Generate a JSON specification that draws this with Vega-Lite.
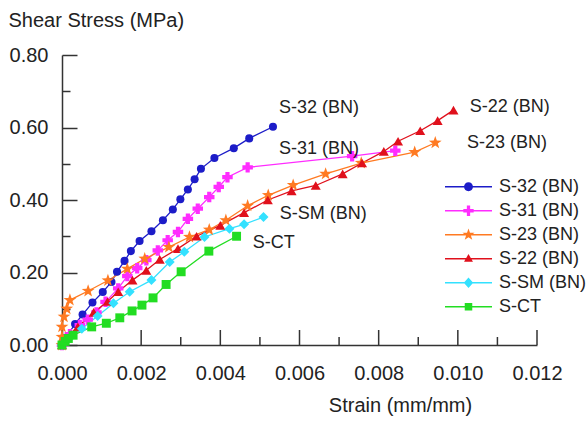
{
  "$schema": "https://vega.github.io/schema/vega-lite/v6.json",
  "width": 475,
  "height": 290,
  "autosize": {"type": "none"},
  "padding": {"left": 62, "top": 55, "right": 50, "bottom": 78},
  "background": "white",
  "config": {
    "view": {"stroke": null},
    "font": "Liberation Sans",
    "axis": {
      "grid": false,
      "domainColor": "#333333",
      "tickColor": "#333333",
      "domainWidth": 1.5,
      "tickWidth": 1.5,
      "labelColor": "#222222",
      "titleColor": "#222222",
      "labelFont": "Liberation Sans",
      "titleFont": "Liberation Sans",
      "labelFontSize": 20,
      "titleFontSize": 20,
      "titleFontWeight": "normal"
    }
  },
  "datasets": {
    "xticks": [
      {"tick": 0, "kind": "major"},
      {"tick": 0.001, "kind": "minor"},
      {"tick": 0.002, "kind": "major"},
      {"tick": 0.003, "kind": "minor"},
      {"tick": 0.004, "kind": "major"},
      {"tick": 0.005, "kind": "minor"},
      {"tick": 0.006, "kind": "major"},
      {"tick": 0.007, "kind": "minor"},
      {"tick": 0.008, "kind": "major"},
      {"tick": 0.009, "kind": "minor"},
      {"tick": 0.01, "kind": "major"},
      {"tick": 0.011, "kind": "minor"},
      {"tick": 0.012, "kind": "major"}
    ],
    "curves": [
      {"series": "S-32 (BN)", "strain": 0, "stress": 0},
      {"series": "S-32 (BN)", "strain": 0.0001, "stress": 0.02},
      {"series": "S-32 (BN)", "strain": 0.00033, "stress": 0.058},
      {"series": "S-32 (BN)", "strain": 0.00052, "stress": 0.084},
      {"series": "S-32 (BN)", "strain": 0.00077, "stress": 0.117},
      {"series": "S-32 (BN)", "strain": 0.00103, "stress": 0.146},
      {"series": "S-32 (BN)", "strain": 0.00125, "stress": 0.174},
      {"series": "S-32 (BN)", "strain": 0.00139, "stress": 0.202},
      {"series": "S-32 (BN)", "strain": 0.00158, "stress": 0.232},
      {"series": "S-32 (BN)", "strain": 0.00174, "stress": 0.259},
      {"series": "S-32 (BN)", "strain": 0.00196, "stress": 0.287},
      {"series": "S-32 (BN)", "strain": 0.00226, "stress": 0.314},
      {"series": "S-32 (BN)", "strain": 0.00255, "stress": 0.344},
      {"series": "S-32 (BN)", "strain": 0.0028, "stress": 0.374},
      {"series": "S-32 (BN)", "strain": 0.00299, "stress": 0.402},
      {"series": "S-32 (BN)", "strain": 0.00318, "stress": 0.429},
      {"series": "S-32 (BN)", "strain": 0.00335, "stress": 0.457},
      {"series": "S-32 (BN)", "strain": 0.00351, "stress": 0.486},
      {"series": "S-32 (BN)", "strain": 0.00385, "stress": 0.516},
      {"series": "S-32 (BN)", "strain": 0.00434, "stress": 0.543},
      {"series": "S-32 (BN)", "strain": 0.00473, "stress": 0.57},
      {"series": "S-32 (BN)", "strain": 0.00533, "stress": 0.602},

      {"series": "S-31 (BN)", "strain": 0, "stress": 0},
      {"series": "S-31 (BN)", "strain": 0.0002, "stress": 0.03},
      {"series": "S-31 (BN)", "strain": 0.00045, "stress": 0.055},
      {"series": "S-31 (BN)", "strain": 0.00065, "stress": 0.07},
      {"series": "S-31 (BN)", "strain": 0.00087, "stress": 0.09},
      {"series": "S-31 (BN)", "strain": 0.0011, "stress": 0.119},
      {"series": "S-31 (BN)", "strain": 0.00142, "stress": 0.156},
      {"series": "S-31 (BN)", "strain": 0.00165, "stress": 0.19},
      {"series": "S-31 (BN)", "strain": 0.0019, "stress": 0.212},
      {"series": "S-31 (BN)", "strain": 0.00213, "stress": 0.234},
      {"series": "S-31 (BN)", "strain": 0.00242, "stress": 0.261},
      {"series": "S-31 (BN)", "strain": 0.00267, "stress": 0.289},
      {"series": "S-31 (BN)", "strain": 0.00293, "stress": 0.312},
      {"series": "S-31 (BN)", "strain": 0.00318, "stress": 0.348},
      {"series": "S-31 (BN)", "strain": 0.00343, "stress": 0.376},
      {"series": "S-31 (BN)", "strain": 0.00372, "stress": 0.408},
      {"series": "S-31 (BN)", "strain": 0.00396, "stress": 0.436},
      {"series": "S-31 (BN)", "strain": 0.00418, "stress": 0.463},
      {"series": "S-31 (BN)", "strain": 0.00469, "stress": 0.49},
      {"series": "S-31 (BN)", "strain": 0.00733, "stress": 0.521},
      {"series": "S-31 (BN)", "strain": 0.00842, "stress": 0.536},

      {"series": "S-23 (BN)", "strain": 0, "stress": 0},
      {"series": "S-23 (BN)", "strain": 0, "stress": 0.022},
      {"series": "S-23 (BN)", "strain": 0, "stress": 0.05},
      {"series": "S-23 (BN)", "strain": 0.00005, "stress": 0.078},
      {"series": "S-23 (BN)", "strain": 0.00012, "stress": 0.1},
      {"series": "S-23 (BN)", "strain": 0.0002, "stress": 0.124},
      {"series": "S-23 (BN)", "strain": 0.00066, "stress": 0.149},
      {"series": "S-23 (BN)", "strain": 0.00116, "stress": 0.178},
      {"series": "S-23 (BN)", "strain": 0.00165, "stress": 0.21},
      {"series": "S-23 (BN)", "strain": 0.00209, "stress": 0.238},
      {"series": "S-23 (BN)", "strain": 0.0027, "stress": 0.27},
      {"series": "S-23 (BN)", "strain": 0.00322, "stress": 0.298},
      {"series": "S-23 (BN)", "strain": 0.00372, "stress": 0.318},
      {"series": "S-23 (BN)", "strain": 0.00414, "stress": 0.344},
      {"series": "S-23 (BN)", "strain": 0.00469, "stress": 0.384},
      {"series": "S-23 (BN)", "strain": 0.00521, "stress": 0.413},
      {"series": "S-23 (BN)", "strain": 0.00584, "stress": 0.441},
      {"series": "S-23 (BN)", "strain": 0.00666, "stress": 0.472},
      {"series": "S-23 (BN)", "strain": 0.00756, "stress": 0.502},
      {"series": "S-23 (BN)", "strain": 0.00891, "stress": 0.532},
      {"series": "S-23 (BN)", "strain": 0.00943, "stress": 0.558},

      {"series": "S-22 (BN)", "strain": 0, "stress": 0},
      {"series": "S-22 (BN)", "strain": 0.0001, "stress": 0.02},
      {"series": "S-22 (BN)", "strain": 0.0004, "stress": 0.05},
      {"series": "S-22 (BN)", "strain": 0.0008, "stress": 0.09},
      {"series": "S-22 (BN)", "strain": 0.00115, "stress": 0.12},
      {"series": "S-22 (BN)", "strain": 0.00142, "stress": 0.147},
      {"series": "S-22 (BN)", "strain": 0.00178, "stress": 0.179},
      {"series": "S-22 (BN)", "strain": 0.00213, "stress": 0.206},
      {"series": "S-22 (BN)", "strain": 0.00247, "stress": 0.236},
      {"series": "S-22 (BN)", "strain": 0.00293, "stress": 0.266},
      {"series": "S-22 (BN)", "strain": 0.0034, "stress": 0.3},
      {"series": "S-22 (BN)", "strain": 0.004, "stress": 0.33},
      {"series": "S-22 (BN)", "strain": 0.0046, "stress": 0.365},
      {"series": "S-22 (BN)", "strain": 0.0052, "stress": 0.4},
      {"series": "S-22 (BN)", "strain": 0.0058, "stress": 0.425},
      {"series": "S-22 (BN)", "strain": 0.00641, "stress": 0.44},
      {"series": "S-22 (BN)", "strain": 0.00709, "stress": 0.472},
      {"series": "S-22 (BN)", "strain": 0.00758, "stress": 0.502},
      {"series": "S-22 (BN)", "strain": 0.00813, "stress": 0.534},
      {"series": "S-22 (BN)", "strain": 0.00849, "stress": 0.562},
      {"series": "S-22 (BN)", "strain": 0.00905, "stress": 0.591},
      {"series": "S-22 (BN)", "strain": 0.00949, "stress": 0.619},
      {"series": "S-22 (BN)", "strain": 0.00989, "stress": 0.648},

      {"series": "S-SM (BN)", "strain": 0, "stress": 0},
      {"series": "S-SM (BN)", "strain": 0.0002, "stress": 0.02},
      {"series": "S-SM (BN)", "strain": 0.0005, "stress": 0.045},
      {"series": "S-SM (BN)", "strain": 0.0009, "stress": 0.08},
      {"series": "S-SM (BN)", "strain": 0.0013, "stress": 0.115},
      {"series": "S-SM (BN)", "strain": 0.00171, "stress": 0.147},
      {"series": "S-SM (BN)", "strain": 0.00226, "stress": 0.179},
      {"series": "S-SM (BN)", "strain": 0.00272, "stress": 0.229},
      {"series": "S-SM (BN)", "strain": 0.00309, "stress": 0.257},
      {"series": "S-SM (BN)", "strain": 0.0036, "stress": 0.298},
      {"series": "S-SM (BN)", "strain": 0.00423, "stress": 0.321},
      {"series": "S-SM (BN)", "strain": 0.0046, "stress": 0.333},
      {"series": "S-SM (BN)", "strain": 0.00509, "stress": 0.353},

      {"series": "S-CT", "strain": 0, "stress": 0},
      {"series": "S-CT", "strain": 0.00008, "stress": 0.01},
      {"series": "S-CT", "strain": 0.00016, "stress": 0.018},
      {"series": "S-CT", "strain": 0.00028, "stress": 0.027},
      {"series": "S-CT", "strain": 0.00075, "stress": 0.05},
      {"series": "S-CT", "strain": 0.00112, "stress": 0.06},
      {"series": "S-CT", "strain": 0.00146, "stress": 0.075},
      {"series": "S-CT", "strain": 0.00177, "stress": 0.094},
      {"series": "S-CT", "strain": 0.00202, "stress": 0.11},
      {"series": "S-CT", "strain": 0.0023, "stress": 0.13},
      {"series": "S-CT", "strain": 0.00263, "stress": 0.167},
      {"series": "S-CT", "strain": 0.00301, "stress": 0.202},
      {"series": "S-CT", "strain": 0.00371, "stress": 0.259},
      {"series": "S-CT", "strain": 0.00441, "stress": 0.3}
    ],
    "notes": [
      {"label": "S-32 (BN)", "strain": 0.00548, "stress": 0.654},
      {"label": "S-31 (BN)", "strain": 0.00548, "stress": 0.541},
      {"label": "S-SM (BN)", "strain": 0.0055, "stress": 0.361},
      {"label": "S-CT", "strain": 0.00482, "stress": 0.281},
      {"label": "S-22 (BN)", "strain": 0.0103, "stress": 0.657},
      {"label": "S-23 (BN)", "strain": 0.01023, "stress": 0.557}
    ]
  },
  "resolve": {
    "scale": {"x": "shared", "y": "shared"},
    "axis": {"x": "independent", "y": "independent"}
  },
  "layer": [
    {
      "data": {"name": "xticks"},
      "transform": [{"filter": "datum.kind === 'major'"}],
      "mark": {"type": "rule", "color": "#333333", "strokeWidth": 1.5},
      "encoding": {
        "x": {"field": "tick", "type": "quantitative", "scale": {"domain": [0, 0.012], "nice": false, "zero": false}, "axis": null},
        "y": {"datum": 0, "type": "quantitative", "scale": {"domain": [0, 0.8], "nice": false}, "axis": null},
        "y2": {"datum": 0.0414}
      }
    },
    {
      "data": {"name": "xticks"},
      "transform": [{"filter": "datum.kind === 'minor'"}],
      "mark": {"type": "rule", "color": "#333333", "strokeWidth": 1.5},
      "encoding": {
        "x": {"field": "tick", "type": "quantitative", "scale": {"domain": [0, 0.012], "nice": false, "zero": false}, "axis": null},
        "y": {"datum": 0, "type": "quantitative", "scale": {"domain": [0, 0.8], "nice": false}, "axis": null},
        "y2": {"datum": 0.022}
      }
    },
    {
      "data": {"name": "curves"},
      "mark": {"type": "line", "strokeWidth": 1.3},
      "encoding": {
        "x": {
          "field": "strain", "type": "quantitative",
          "scale": {"domain": [0, 0.012], "nice": false, "zero": false},
          "axis": {
            "orient": "bottom",
            "values": [0, 0.002, 0.004, 0.006, 0.008, 0.01, 0.012],
            "format": ".3f",
            "ticks": false,
            "grid": false,
            "labelPadding": 18,
            "labelFlush": false,
            "labelOverlap": false,
            "title": "Strain (mm/mm)",
            "titleX": 338,
            "titleY": 60,
            "titleAlign": "center",
            "titleBaseline": "middle"
          }
        },
        "y": {
          "field": "stress", "type": "quantitative",
          "scale": {"domain": [0, 0.8], "nice": false},
          "axis": {
            "orient": "left",
            "values": [0, 0.2, 0.4, 0.6, 0.8],
            "format": ".2f",
            "ticks": false,
            "grid": true,
            "gridDash": [15, 1000],
            "gridColor": "#333333",
            "gridWidth": 1.5,
            "gridOpacity": 1,
            "labelPadding": 14,
            "labelOverlap": false,
            "title": "Shear Stress (MPa)",
            "titleAngle": 0,
            "titleAlign": "left",
            "titleBaseline": "middle",
            "titleX": -54,
            "titleY": -35
          }
        },
        "color": {
          "field": "series", "type": "nominal",
          "scale": {
            "domain": ["S-32 (BN)", "S-31 (BN)", "S-23 (BN)", "S-22 (BN)", "S-SM (BN)", "S-CT"],
            "range": ["#1c1cc8", "#ff2cff", "#ff7a22", "#e0101c", "#33e1ff", "#22dd22"]
          },
          "legend": {
            "orient": "none",
            "legendX": 383,
            "legendY": 120,
            "title": null,
            "padding": 0,
            "symbolSize": 2209,
            "symbolStrokeWidth": 0,
            "symbolOffset": 0,
            "labelFontSize": 18,
            "labelFont": "Liberation Sans",
            "labelColor": "#222222",
            "labelOffset": 7,
            "labelLimit": 200,
            "clipHeight": 23.5,
            "rowPadding": 0,
            "encode": {
              "symbols": {
                "update": {
                  "shape": {"signal": "datum.value === 'S-32 (BN)' ? 'M-1,-0.03H1V0.03H-1ZM0.19,0A0.19,0.19,0,1,1,-0.19,0A0.19,0.19,0,1,1,0.19,0Z' : datum.value === 'S-31 (BN)' ? 'M-1,-0.03H1V0.03H-1ZM-0.07,-0.22H0.07V-0.07H0.22V0.07H0.07V0.22H-0.07V0.07H-0.22V-0.07H-0.07Z' : datum.value === 'S-23 (BN)' ? 'M-1,-0.03H1V0.03H-1ZM0,-0.27L0.063,-0.087L0.257,-0.083L0.103,0.033L0.159,0.218L0,0.108L-0.159,0.218L-0.103,0.033L-0.257,-0.083L-0.063,-0.087Z' : datum.value === 'S-22 (BN)' ? 'M-1,-0.03H1V0.03H-1ZM0,-0.2L0.19,0.13L-0.19,0.13Z' : datum.value === 'S-SM (BN)' ? 'M-1,-0.03H1V0.03H-1ZM0,-0.22L0.2,0L0,0.22L-0.2,0Z' : 'M-1,-0.03H1V0.03H-1ZM-0.16,-0.16H0.16V0.16H-0.16Z'"},
                  "fill": {"scale": "color", "field": "value"},
                  "fillOpacity": {"value": 1},
                  "opacity": {"value": 1}
                }
              }
            }
          }
        },
        "order": {"value": null}
      }
    },
    {
      "data": {"name": "curves"},
      "transform": [{"filter": "datum.series === 'S-32 (BN)'"}],
      "mark": {"type": "point", "filled": true, "opacity": 1, "shape": "circle", "size": 65, "color": "#1c1cc8"},
      "encoding": {
        "x": {"field": "strain", "type": "quantitative", "scale": {"domain": [0, 0.012], "nice": false, "zero": false}, "axis": null},
        "y": {
          "field": "stress", "type": "quantitative",
          "scale": {"domain": [0, 0.8], "nice": false},
          "axis": {
            "orient": "left",
            "values": [0.1, 0.3, 0.5, 0.7],
            "labels": false,
            "domain": false,
            "ticks": false,
            "grid": true,
            "gridDash": [8, 1000],
            "gridColor": "#333333",
            "gridWidth": 1.5,
            "gridOpacity": 1,
            "title": null
          }
        }
      }
    },
    {
      "data": {"name": "curves"},
      "transform": [{"filter": "datum.series === 'S-31 (BN)'"}],
      "mark": {"type": "point", "filled": true, "opacity": 1, "shape": "cross", "size": 110, "color": "#ff2cff"},
      "encoding": {
        "x": {"field": "strain", "type": "quantitative", "scale": {"domain": [0, 0.012], "nice": false, "zero": false}, "axis": null},
        "y": {"field": "stress", "type": "quantitative", "scale": {"domain": [0, 0.8], "nice": false}, "axis": null}
      }
    },
    {
      "data": {"name": "curves"},
      "transform": [{"filter": "datum.series === 'S-23 (BN)'"}],
      "mark": {"type": "point", "filled": true, "opacity": 1, "shape": "M0,-1L0.235,-0.324L0.951,-0.309L0.38,0.124L0.588,0.809L0,0.4L-0.588,0.809L-0.38,0.124L-0.951,-0.309L-0.235,-0.324Z", "size": 180, "color": "#ff7a22"},
      "encoding": {
        "x": {"field": "strain", "type": "quantitative", "scale": {"domain": [0, 0.012], "nice": false, "zero": false}, "axis": null},
        "y": {"field": "stress", "type": "quantitative", "scale": {"domain": [0, 0.8], "nice": false}, "axis": null}
      }
    },
    {
      "data": {"name": "curves"},
      "transform": [{"filter": "datum.series === 'S-22 (BN)'"}],
      "mark": {"type": "point", "filled": true, "opacity": 1, "shape": "triangle-up", "size": 100, "color": "#e0101c"},
      "encoding": {
        "x": {"field": "strain", "type": "quantitative", "scale": {"domain": [0, 0.012], "nice": false, "zero": false}, "axis": null},
        "y": {"field": "stress", "type": "quantitative", "scale": {"domain": [0, 0.8], "nice": false}, "axis": null}
      }
    },
    {
      "data": {"name": "curves"},
      "transform": [{"filter": "datum.series === 'S-SM (BN)'"}],
      "mark": {"type": "point", "filled": true, "opacity": 1, "shape": "diamond", "size": 100, "color": "#33e1ff"},
      "encoding": {
        "x": {"field": "strain", "type": "quantitative", "scale": {"domain": [0, 0.012], "nice": false, "zero": false}, "axis": null},
        "y": {"field": "stress", "type": "quantitative", "scale": {"domain": [0, 0.8], "nice": false}, "axis": null}
      }
    },
    {
      "data": {"name": "curves"},
      "transform": [{"filter": "datum.series === 'S-CT'"}],
      "mark": {"type": "point", "filled": true, "opacity": 1, "shape": "square", "size": 80, "color": "#22dd22"},
      "encoding": {
        "x": {"field": "strain", "type": "quantitative", "scale": {"domain": [0, 0.012], "nice": false, "zero": false}, "axis": null},
        "y": {"field": "stress", "type": "quantitative", "scale": {"domain": [0, 0.8], "nice": false}, "axis": null}
      }
    },
    {
      "data": {"name": "notes"},
      "mark": {"type": "text", "align": "left", "baseline": "middle", "fontSize": 18, "font": "Liberation Sans", "color": "#222222"},
      "encoding": {
        "x": {"field": "strain", "type": "quantitative", "scale": {"domain": [0, 0.012], "nice": false, "zero": false}, "axis": null},
        "y": {"field": "stress", "type": "quantitative", "scale": {"domain": [0, 0.8], "nice": false}, "axis": null},
        "text": {"field": "label", "type": "nominal"}
      }
    }
  ]
}
